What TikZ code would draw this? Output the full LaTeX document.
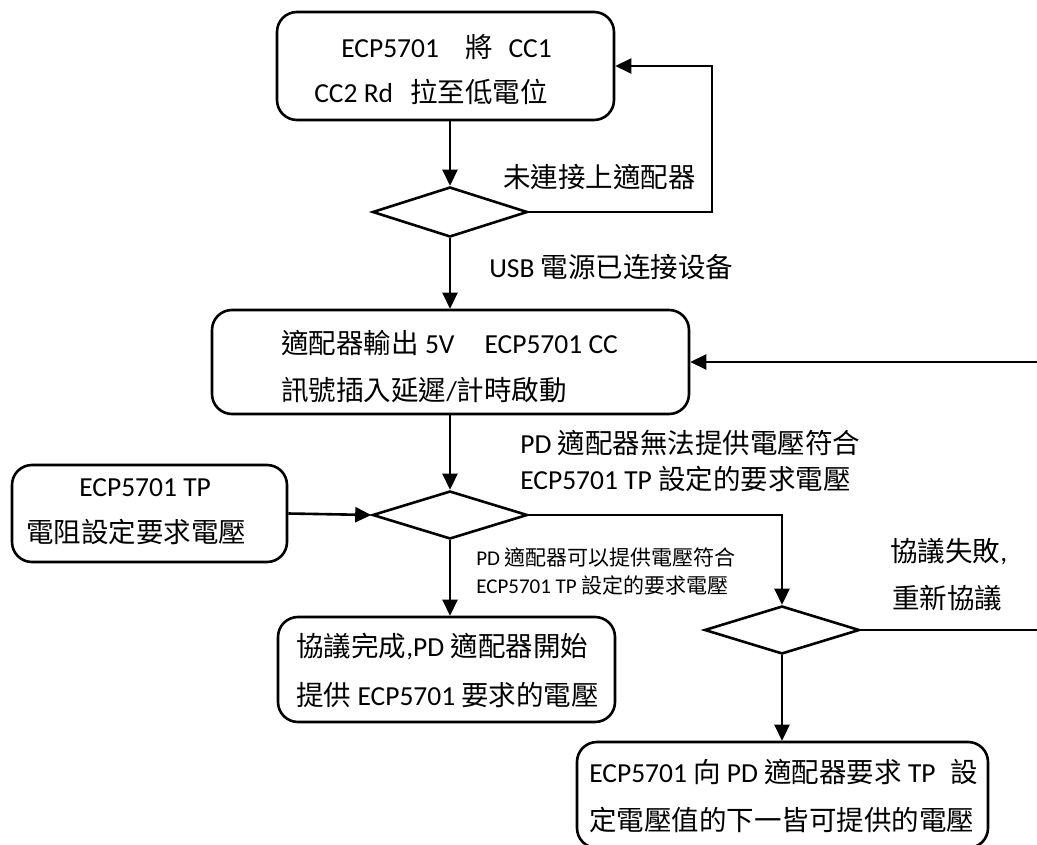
\documentclass[tikz,border=0pt]{standalone}
\usepackage{fontspec}
\setmainfont{Carlito}
\newfontfamily\cjk{Noto Sans CJK TC}
\newcommand\C[1]{{\cjk #1}}
\usetikzlibrary{arrows.meta,shapes.geometric}
\begin{document}
\begin{tikzpicture}[x=1pt,y=-1pt,
  line width=2.6pt,
  box/.style={draw, rounded corners=20pt, inner sep=0pt, line width=2.6pt},
  dec/.style={draw, diamond, aspect=3.1, inner sep=0pt, minimum width=155pt, minimum height=48pt, line width=2.6pt},
  txt/.style={anchor=west, inner sep=0pt, font=\fontsize{27.5}{33}\selectfont},
  stxt/.style={anchor=west, inner sep=0pt, font=\fontsize{21}{25}\selectfont},
  arr/.style={-{Triangle[length=16pt,width=15pt]}, line width=2.6pt}]
\useasboundingbox (0,0) rectangle (1037,845);

% boxes
\node[box, minimum width=337pt, minimum height=108pt] (b1) at (445.5,66) {};
\node[box, minimum width=477pt, minimum height=104pt] (b2) at (450.5,362) {};
\node[box, minimum width=275pt, minimum height=97pt] (b3) at (149.5,513.5) {};
\node[box, minimum width=337pt, minimum height=105pt] (b4) at (446.5,669.5) {};
\node[box, minimum width=411pt, minimum height=106pt] (b5) at (782.5,795) {};

% decisions
\node[dec, minimum height=50pt] (d1) at (450,212) {};
\node[dec] (d2) at (450,515) {};
\node[dec] (d3) at (782,630) {};

% free ends
\coordinate (l1) at (712,212);
\coordinate (r1) at (1037,362);
\coordinate (r2) at (1037,630);

% connectors
\draw[arr] (d1.north |- b1.south) -- (d1.north);
\draw[arr] (d1.east) -- (l1) |- (b1.east);
\draw[arr] (d1.south) -- (d1.south |- b2.north);
\draw[arr] (r1) -- (r1 -| b2.east);
\draw[arr] (d2.north |- b2.south) -- (d2.north);
\draw[arr] (b3.east) -- (d2.west);
\draw[arr] (d2.east) -| (d3.north);
\draw[arr] (d2.south) -- (d2.south |- b4.north);
\draw (d3.east) -- (r2);
\draw[arr] (d3.south) -- (d3.south |- b5.north);

% texts
\node[txt] (t1a) at (340,47) {ECP5701\hspace{26pt}\C{將}\hspace{16pt}CC1};
\node[txt] (t1b) at (313,92) {CC2 Rd\hspace{17pt}\C{拉至低電位}};
\node[txt] (l1t) at (502,177) {\C{未連接上適配器}};
\node[txt] (l2t) at (488,267) {USB \C{電源已连接设备}};
\node[txt] (t2a) at (280,343) {\C{適配器輸出} 5V\hspace{30pt}ECP5701 CC};
\node[txt] (t2b) at (280,390) {\C{訊號插入延遲}/\C{計時啟動}};
\node[txt] (l3a) at (519,443) {PD \C{適配器無法提供電壓符合}};
\node[txt] (l3b) at (519,479) {ECP5701 TP \C{設定的要求電壓}};
\node[txt] (t3a) at (78,488) {ECP5701 TP};
\node[txt] (t3b) at (25,532) {\C{電阻設定要求電壓}};
\node[stxt] (l4a) at (475,557) {PD \C{適配器可以提供電壓符合}};
\node[stxt] (l4b) at (475,585) {ECP5701 TP \C{設定的要求電壓}};
\node[txt] (l5a) at (889,552) {\C{協議失敗},};
\node[txt] (l5b) at (891,598) {\C{重新協議}};
\node[txt] (t4a) at (295,647) {\C{協議完成},PD \C{適配器開始}};
\node[txt] (t4b) at (295,695) {\C{提供} ECP5701 \C{要求的電壓}};
\node[txt] (t5a) at (588,772) {ECP5701 \C{向} PD \C{適配器要求} TP\hspace{15pt}\C{設}};
\node[txt] (t5b) at (588,820) {\C{定電壓值的下一皆可提供的電壓}};
\end{tikzpicture}
\end{document}
